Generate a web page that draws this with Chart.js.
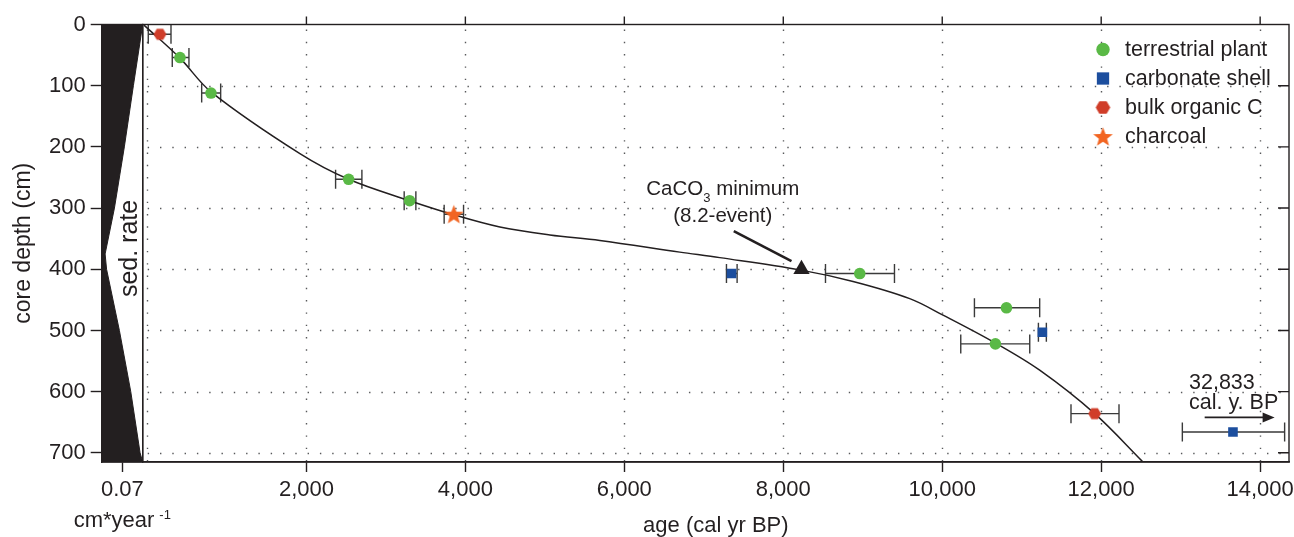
<!DOCTYPE html>
<html>
<head>
<meta charset="utf-8">
<title>Age-depth model</title>
<script src="https://cdn.jsdelivr.net/npm/chart.js@4/dist/chart.umd.min.js"></script>
<style>
  html, body { margin: 0; padding: 0; background: #fff; }
  #wrap { width: 1294px; height: 537px; }
</style>
</head>
<body>
<div id="wrap"><canvas id="chart" width="1294" height="537"></canvas></div>
<script>
// values (age in cal yr BP, depth in cm)
const plantAge   = [409, 799, 2531, 3298, 8962, 10808, 10669];
const plantDepth = [54, 112, 253, 288, 407, 463, 522];
const plantMin   = [312, 682, 2367, 3230, 8531, 10405, 10233];
const plantMax   = [522, 921, 2698, 3377, 9399, 11226, 11101];

const shellAge   = [7349, 11260, 13658];
const shellDepth = [407, 503, 666];
const shellMin   = [7285, 11210, 13021];
const shellMax   = [7419, 11310, 14308];

const bulkAge    = [157, 11918];
const bulkDepth  = [16, 636];
const bulkMin    = [10, 11620];
const bulkMax    = [296, 12224];

const charAge    = [3855];
const charDepth  = [310];
const charMin    = [3733];
const charMax    = [3977];

const eventAge   = [8229];
const eventDepth = [400];

// age-depth model curve
const modelAge   = [-44, 409, 799, 1918, 2531, 3298, 3855, 4434, 5063, 5692, 6698, 7201, 8208, 8878, 9591, 10010, 10660, 11226, 11918, 12526];
const modelDepth = [1, 55, 110, 211, 253, 288, 311, 331, 344, 353, 372, 381, 401, 420, 448, 475, 520, 565, 636, 715];

// sedimentation rate (cm/yr)
const sedDepth = [0, 100, 200, 300, 375, 400, 500, 600, 700, 715];
const sedRate  = [0, 0.032, 0.063, 0.097, 0.129, 0.124, 0.080, 0.041, 0.009, 0];

const ageTicks   = [0, 2000, 4000, 6000, 8000, 10000, 12000, 14000];
const depthTicks = [0, 100, 200, 300, 400, 500, 600, 700];
const rateTicks  = [0.07];

const GREEN = '#5ab946', BLUE = '#1c4e9e', RED = '#d03d29', ORANGE = '#f26522';
const INK = '#231f20', DOT = '#58595b';
const FONT = '"Liberation Sans", Arial, Helvetica, sans-serif';
const SED_MAX = 0.1407;

function pts(a, b) { return a.map((v, i) => ({ x: v, y: b[i] })); }

// filled hexagon marker (flat top and bottom)
function hexagon(r, color) {
    const c = document.createElement('canvas');
    const w = Math.ceil(2 * r) + 2, h = Math.ceil(2 * r * Math.sin(Math.PI / 3)) + 2;
    c.width = w; c.height = h;
    const g = c.getContext('2d');
    g.fillStyle = color;
    g.beginPath();
    for (let k = 0; k < 6; k++) {
        const a = k * Math.PI / 3;
        const px = w / 2 + r * Math.cos(a), py = h / 2 + r * Math.sin(a);
        if (k) g.lineTo(px, py); else g.moveTo(px, py);
    }
    g.closePath();
    g.fill();
    return c;
}

// filled five point star
function star(R, color) {
    const c = document.createElement('canvas');
    const s = Math.ceil(2 * R) + 2;
    c.width = s; c.height = s;
    const g = c.getContext('2d');
    g.fillStyle = color;
    g.beginPath();
    for (let k = 0; k < 10; k++) {
        const rr = k % 2 ? R * 0.42 : R;
        const a = -Math.PI / 2 + k * Math.PI / 5;
        const px = s / 2 + rr * Math.cos(a), py = s / 2 + 1 + rr * Math.sin(a);
        if (k) g.lineTo(px, py); else g.moveTo(px, py);
    }
    g.closePath();
    g.fill();
    return c;
}

const hexPoint = hexagon(6.4, RED);
const hexLegend = hexagon(7.3, RED);
const starPoint = star(10.3, ORANGE);

// horizontal error bars with end caps
const errorBars = {
    id: 'errorBars',
    beforeDatasetsDraw(chart) {
        const { ctx, scales: { x, y } } = chart;
        ctx.save();
        ctx.strokeStyle = '#3a3a3a';
        ctx.lineWidth = 1.4;
        chart.data.datasets.forEach(ds => {
            if (!ds.errMin) return;
            ds.data.forEach((p, i) => {
                const x0 = x.getPixelForValue(ds.errMin[i]);
                const x1 = x.getPixelForValue(ds.errMax[i]);
                const py = y.getPixelForValue(p.y);
                ctx.beginPath();
                ctx.moveTo(x0, py); ctx.lineTo(x1, py);
                ctx.moveTo(x0, py - 9.5); ctx.lineTo(x0, py + 9.5);
                ctx.moveTo(x1, py - 9.5); ctx.lineTo(x1, py + 9.5);
                ctx.stroke();
            });
        });
        ctx.restore();
    }
};

// dotted grid, frame, top and right tick marks
const frame = {
    id: 'frame',
    beforeDatasetsDraw(chart) {
        const { ctx, scales: { x, y } } = chart;
        ctx.save();
        ctx.strokeStyle = DOT;
        ctx.lineWidth = 1.4;
        ctx.setLineDash([1.4, 10.9]);
        depthTicks.forEach(v => {
            if (v === 0) return;
            const py = Math.round(y.getPixelForValue(v)) + 0.5;
            ctx.beginPath(); ctx.moveTo(x.left + 5, py); ctx.lineTo(x.right, py); ctx.stroke();
        });
        ageTicks.forEach(v => {
            const px = Math.round(x.getPixelForValue(v)) + 0.5;
            ctx.beginPath(); ctx.moveTo(px, y.top + 5); ctx.lineTo(px, y.bottom); ctx.stroke();
        });
        ctx.restore();
    },
    afterDatasetsDraw(chart) {
        const { ctx, scales: { x, y, xs } } = chart;
        ctx.save();
        ctx.strokeStyle = INK;
        ctx.lineWidth = 1.4;
        ctx.strokeRect(x.left, y.top, x.right - x.left, y.bottom - y.top);
        ctx.strokeRect(xs.left, y.top, xs.right - xs.left, y.bottom - y.top);
        ctx.beginPath();
        ageTicks.forEach(v => {
            if (v === 0) return;
            const px = x.getPixelForValue(v);
            ctx.moveTo(px, y.top); ctx.lineTo(px, y.top - 8);
        });
        depthTicks.forEach(v => {
            if (v === 0) return;
            const py = y.getPixelForValue(v);
            ctx.moveTo(x.right, py); ctx.lineTo(x.right - 11, py);
        });
        ctx.stroke();
        ctx.restore();
    }
};

// sed. rate label, rate axis title, annotations and legend
const notes = {
    id: 'notes',
    afterDatasetsDraw(chart) {
        const { ctx, scales: { x, y, xs }, chartArea } = chart;
        ctx.save();
        ctx.fillStyle = INK;
        ctx.strokeStyle = INK;

        // sed. rate (rotated)
        ctx.save();
        ctx.translate(xs.getPixelForValue(0.0206), y.getPixelForValue(366));
        ctx.rotate(-Math.PI / 2);
        ctx.font = '25px ' + FONT;
        ctx.textAlign = 'center';
        ctx.textBaseline = 'alphabetic';
        ctx.fillText('sed. rate', 0, 0);
        ctx.restore();

        // rate axis title with superscript
        ctx.textBaseline = 'alphabetic';
        ctx.textAlign = 'left';
        ctx.font = '22px ' + FONT;
        const wMain = ctx.measureText('cm*year').width;
        ctx.font = '13px ' + FONT;
        const wSup = ctx.measureText('-1').width;
        const cx = xs.getPixelForValue(0.07);
        const tx = cx - (wMain + 5 + wSup) / 2;
        const ty = chart.height - 10.3;
        ctx.font = '22px ' + FONT;
        ctx.fillText('cm*year', tx, ty);
        ctx.font = '13px ' + FONT;
        ctx.fillText('-1', tx + wMain + 5, ty - 8);

        // CaCO3 minimum label
        const big = '20.5px ' + FONT, small = '13px ' + FONT;
        ctx.font = big;
        const w1 = ctx.measureText('CaCO').width, w3 = ctx.measureText(' minimum').width;
        ctx.font = small;
        const w2 = ctx.measureText('3').width;
        const lx = x.getPixelForValue(7239) - (w1 + w2 + w3) / 2;
        const ly = y.getPixelForValue(278.7);
        ctx.font = big;
        ctx.fillText('CaCO', lx, ly);
        ctx.font = small;
        ctx.fillText('3', lx + w1, ly + 6.5);
        ctx.font = big;
        ctx.fillText(' minimum', lx + w1 + w2, ly);
        ctx.textAlign = 'center';
        ctx.fillText('(8.2-event)', x.getPixelForValue(7239), y.getPixelForValue(322.4));

        ctx.lineWidth = 2.6;
        ctx.beginPath();
        ctx.moveTo(x.getPixelForValue(7377), y.getPixelForValue(337.6));
        ctx.lineTo(x.getPixelForValue(8103), y.getPixelForValue(386.6));
        ctx.stroke();

        // off-scale date
        ctx.textAlign = 'left';
        ctx.font = '21.5px ' + FONT;
        ctx.fillText('32,833', x.getPixelForValue(13105), y.getPixelForValue(596.4));
        ctx.fillText('cal. y. BP', x.getPixelForValue(13105), y.getPixelForValue(629.1));
        const ax0 = x.getPixelForValue(13302), ax1 = x.getPixelForValue(14182);
        const ay = y.getPixelForValue(642.1);
        ctx.lineWidth = 1.6;
        ctx.beginPath(); ctx.moveTo(ax0, ay); ctx.lineTo(ax1 - 8, ay); ctx.stroke();
        ctx.beginPath();
        ctx.moveTo(ax1, ay); ctx.lineTo(ax1 - 12, ay - 5); ctx.lineTo(ax1 - 12, ay + 5);
        ctx.closePath(); ctx.fill();

        // legend
        const items = [
            { style: 'circle', r: 6.7, color: GREEN },
            { style: 'rect', r: 8.7, color: BLUE },
            { style: hexLegend, r: 7, color: RED },
            { style: starPoint, r: 10, color: ORANGE }
        ];
        const mx = chartArea.right - 186;
        items.forEach((it, i) => {
            const my = chartArea.top + 25 + i * 29;
            ctx.fillStyle = it.color;
            Chart.helpers.drawPoint(ctx, { pointStyle: it.style, radius: it.r, rotation: 0, borderWidth: 0 }, mx, my);
            ctx.fillStyle = INK;
            ctx.font = '21.5px ' + FONT;
            ctx.textAlign = 'left';
            ctx.fillText(chart.data.datasets[i].label, mx + 22, my + 6);
        });
        ctx.restore();
    }
};

const tickFont = { family: FONT, size: 22 };
const fixHeight = s => { s.height = 75; s.paddingLeft = 0; s.paddingRight = 0; };

new Chart(document.getElementById('chart'), {
    type: 'scatter',
    data: {
        datasets: [
            {
                label: 'terrestrial plant', data: pts(plantAge, plantDepth),
                xAxisID: 'x', yAxisID: 'y', pointStyle: 'circle', pointRadius: 5.8,
                backgroundColor: GREEN, pointBorderWidth: 0, errMin: plantMin, errMax: plantMax
            },
            {
                label: 'carbonate shell', data: pts(shellAge, shellDepth),
                xAxisID: 'x', yAxisID: 'y', pointStyle: 'rect', pointRadius: 6.8,
                backgroundColor: BLUE, pointBorderWidth: 0, errMin: shellMin, errMax: shellMax
            },
            {
                label: 'bulk organic C', data: pts(bulkAge, bulkDepth),
                xAxisID: 'x', yAxisID: 'y', pointStyle: hexPoint, pointRadius: 6,
                backgroundColor: RED, pointBorderWidth: 0, errMin: bulkMin, errMax: bulkMax
            },
            {
                label: 'charcoal', data: pts(charAge, charDepth),
                xAxisID: 'x', yAxisID: 'y', pointStyle: starPoint, pointRadius: 10,
                backgroundColor: ORANGE, pointBorderWidth: 0, errMin: charMin, errMax: charMax
            },
            {
                label: 'CaCO3 minimum', data: pts(eventAge, eventDepth),
                xAxisID: 'x', yAxisID: 'y', pointStyle: 'triangle', pointRadius: 9.4,
                backgroundColor: INK, pointBorderWidth: 0
            },
            {
                type: 'line', label: 'age model', data: pts(modelAge, modelDepth),
                xAxisID: 'x', yAxisID: 'y', borderColor: INK, borderWidth: 1.5,
                pointRadius: 0, tension: 0.35, fill: false
            },
            {
                type: 'line', label: 'sed. rate', data: pts(sedRate, sedDepth), indexAxis: 'y',
                xAxisID: 'xs', yAxisID: 'y', borderColor: INK, borderWidth: 1,
                backgroundColor: INK, pointRadius: 0, tension: 0, fill: { value: SED_MAX }
            }
        ]
    },
    options: {
        responsive: false,
        animation: false,
        devicePixelRatio: 1,
        layout: { autoPadding: false, padding: { top: 24.5, right: 5, bottom: 0, left: 0 } },
        plugins: { legend: { display: false }, tooltip: { enabled: false } },
        scales: {
            xs: {
                type: 'linear', axis: 'x', position: 'bottom', stack: 'base', stackWeight: 41, weight: 0,
                min: 0, max: SED_MAX, reverse: true,
                afterBuildTicks: s => { s.ticks = rateTicks.map(v => ({ value: v })); },
                afterFit: fixHeight,
                ticks: { font: tickFont, color: INK, padding: 5, maxRotation: 0, callback: v => String(v) },
                grid: { drawOnChartArea: false, tickLength: 10, tickColor: INK, tickWidth: 1.4 },
                border: { color: INK, width: 1.4 }
            },
            x: {
                type: 'linear', axis: 'x', position: 'bottom', stack: 'base', stackWeight: 1146.3, weight: 1,
                min: -60, max: 14363,
                afterBuildTicks: s => { s.ticks = ageTicks.map(v => ({ value: v })); },
                afterFit: fixHeight,
                ticks: {
                    font: tickFont, color: INK, padding: 5, maxRotation: 0, autoSkip: false,
                    callback: v => v === 0 ? '' : v.toLocaleString('en-US')
                },
                grid: {
                    drawOnChartArea: false, tickLength: 10, tickWidth: 1.4,
                    tickColor: c => (c.tick && c.tick.value === 0) ? 'rgba(0,0,0,0)' : INK
                },
                border: { color: INK, width: 1.4 },
                title: {
                    display: true, text: 'age (cal yr BP)', color: INK,
                    font: { family: FONT, size: 22 }, padding: { top: 0, bottom: -2.6 }
                }
            },
            y: {
                type: 'linear', position: 'left', reverse: true, min: 0, max: 715,
                afterBuildTicks: s => { s.ticks = depthTicks.map(v => ({ value: v })); },
                afterFit: s => { s.width = 101.7; s.paddingTop = 0; s.paddingBottom = 0; },
                ticks: { font: tickFont, color: INK, padding: 5 },
                grid: { drawOnChartArea: false, tickLength: 11, tickColor: INK, tickWidth: 1.4 },
                border: { color: INK, width: 1.4 },
                title: {
                    display: true, text: 'core depth (cm)', color: INK,
                    font: { family: FONT, size: 23 }, padding: { top: 10, bottom: 0 }
                }
            }
        }
    },
    plugins: [frame, errorBars, notes]
});
</script>
</body>
</html>
